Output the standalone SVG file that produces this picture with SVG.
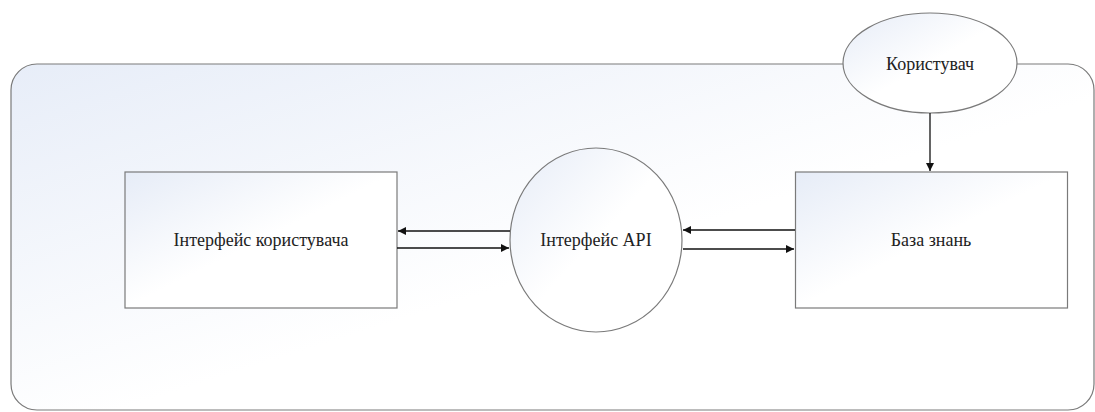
<svg xmlns="http://www.w3.org/2000/svg" width="1095" height="412" viewBox="0 0 1095 412">
<style>
.shape{stroke:#7a7a7a;stroke-width:1.2}
.lbl{font-family:"Liberation Serif","Times New Roman",serif;font-size:18px;fill:#222;text-anchor:middle;dominant-baseline:central}
.conn{stroke:#111;stroke-width:1.3;fill:none;marker-end:url(#ah)}
</style>
<defs>
<linearGradient id="gBig" x1="0" y1="0" x2="1" y2="1">
<stop offset="0" stop-color="#e7edf8"/>
<stop offset="0.55" stop-color="#ffffff"/>
<stop offset="1" stop-color="#ffffff"/>
</linearGradient>
<linearGradient id="gNode" x1="0" y1="0" x2="1" y2="1">
<stop offset="0" stop-color="#e6ecf7"/>
<stop offset="0.5" stop-color="#ffffff"/>
<stop offset="1" stop-color="#ffffff"/>
</linearGradient>
<marker id="ah" viewBox="0 0 10 10" refX="10" refY="5" markerWidth="8" markerHeight="8" markerUnits="userSpaceOnUse" orient="auto">
<path d="M0,0 L10,5 L0,10 z" fill="#111"/>
</marker>
</defs>
<rect width="1095" height="412" fill="#ffffff"/>
<g id="container">
<rect x="11" y="64" width="1083" height="346" rx="26" ry="26" fill="url(#gBig)" class="shape"/>
</g>
<g id="user">
<ellipse cx="930" cy="63" rx="87" ry="50" fill="url(#gNode)" class="shape"/>
<text x="930" y="64" class="lbl">Користувач</text>
</g>
<g id="ui">
<rect x="125" y="172" width="272" height="136" fill="url(#gNode)" class="shape"/>
<text x="261" y="240" class="lbl">Інтерфейс користувача</text>
</g>
<g id="api">
<ellipse cx="596" cy="240" rx="86" ry="92" fill="url(#gNode)" class="shape"/>
<text x="596" y="240" class="lbl">Інтерфейс API</text>
</g>
<g id="kb">
<rect x="795.5" y="172" width="272" height="136" fill="url(#gNode)" class="shape"/>
<text x="931" y="240" class="lbl">База знань</text>
</g>
<g id="connectors">
<line x1="930" y1="113" x2="930" y2="171" class="conn"/>
<line x1="510" y1="231" x2="398" y2="231" class="conn"/>
<line x1="397" y1="248" x2="509" y2="248" class="conn"/>
<line x1="795" y1="230" x2="683" y2="230" class="conn"/>
<line x1="683" y1="249" x2="794" y2="249" class="conn"/>
</g>
</svg>
